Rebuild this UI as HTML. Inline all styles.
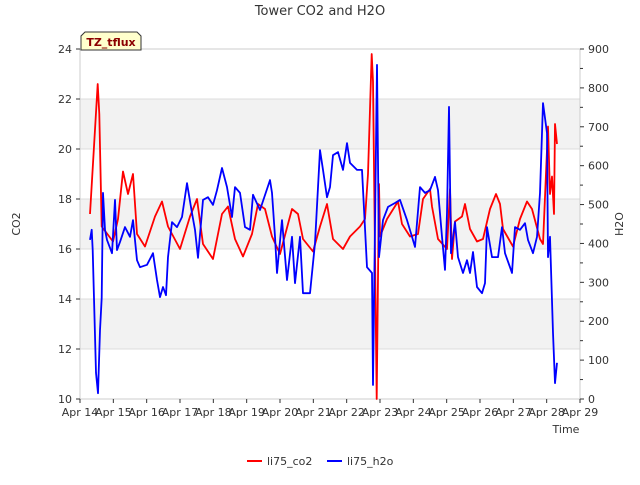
<!DOCTYPE html>
<html><head><meta charset="utf-8"><style>
body{margin:0;background:#fff;font-family:"Liberation Sans","DejaVu Sans",sans-serif;}
svg text{font-family:"DejaVu Sans","Liberation Sans",sans-serif;}
</style></head><body>
<svg id="chart" width="640" height="480">
</svg>
<script>
const xTickLabels=["Apr 14","Apr 15","Apr 16","Apr 17","Apr 18","Apr 19","Apr 20","Apr 21","Apr 22","Apr 23","Apr 24","Apr 25","Apr 26","Apr 27","Apr 28","Apr 29"];
const co2Ticks=[10,12,14,16,18,20,22,24];
const h2oTicks=[0,100,200,300,400,500,600,700,800,900];
const co2Points=[[0.30,17.4],[0.53,22.6],[0.58,21.4],[0.65,16.9],[0.99,16.3],[1.14,17.2],[1.29,19.1],[1.44,18.2],[1.59,19.0],[1.71,16.6],[1.95,16.1],[2.25,17.3],[2.46,17.9],[2.64,16.9],[3.0,16.0],[3.3,17.3],[3.51,18.0],[3.69,16.2],[3.99,15.6],[4.26,17.4],[4.44,17.7],[4.65,16.4],[4.89,15.7],[5.16,16.6],[5.34,17.8],[5.55,17.6],[5.76,16.5],[6.0,15.8],[6.36,17.6],[6.54,17.4],[6.69,16.4],[6.99,15.9],[7.2,16.9],[7.41,17.8],[7.59,16.4],[7.89,16.0],[8.1,16.5],[8.4,16.9],[8.55,17.2],[8.64,19.0],[8.75,23.8],[8.79,22.7],[8.9,10.0],[8.97,18.6],[9.0,16.5],[9.21,17.2],[9.54,17.9],[9.66,17.0],[9.9,16.5],[10.14,16.6],[10.29,18.0],[10.5,18.4],[10.56,17.7],[10.74,16.4],[11.01,16.0],[11.1,18.4],[11.16,15.6],[11.25,17.1],[11.46,17.3],[11.55,17.8],[11.7,16.8],[11.91,16.3],[12.09,16.4],[12.3,17.6],[12.48,18.2],[12.6,17.8],[12.69,16.8],[12.99,16.1],[13.2,17.2],[13.41,17.9],[13.56,17.6],[13.8,16.4],[13.89,16.2],[14.04,20.9],[14.1,18.2],[14.16,18.9],[14.22,17.4],[14.25,21.0],[14.31,20.2]];
const h2oPoints=[[0.30,409],[0.35,435],[0.38,383],[0.48,67],[0.54,15],[0.60,177],[0.65,260],[0.69,530],[0.75,435],[0.81,409],[0.96,375],[1.05,512],[1.11,383],[1.20,404],[1.35,442],[1.50,417],[1.59,460],[1.71,357],[1.80,339],[2.01,345],[2.19,375],[2.31,306],[2.40,262],[2.49,288],[2.58,267],[2.64,365],[2.76,455],[2.91,442],[3.06,468],[3.21,555],[3.36,478],[3.45,435],[3.54,363],[3.69,512],[3.84,519],[3.99,499],[4.11,537],[4.26,594],[4.41,545],[4.56,468],[4.65,545],[4.80,530],[4.95,442],[5.10,435],[5.19,525],[5.40,486],[5.70,563],[5.76,530],[5.85,417],[5.91,324],[6.06,460],[6.21,306],[6.36,417],[6.45,298],[6.60,417],[6.69,272],[6.90,272],[7.05,401],[7.20,640],[7.29,589],[7.41,519],[7.50,545],[7.59,627],[7.74,635],[7.89,589],[8.01,658],[8.10,607],[8.31,589],[8.46,589],[8.61,339],[8.76,324],[8.79,36],[8.91,859],[8.97,365],[9.09,460],[9.24,494],[9.45,504],[9.60,512],[9.81,460],[9.96,417],[10.05,391],[10.20,545],[10.35,530],[10.50,537],[10.65,571],[10.74,537],[10.86,417],[10.95,332],[11.01,478],[11.07,751],[11.13,375],[11.25,455],[11.34,365],[11.49,324],[11.61,357],[11.70,324],[11.79,378],[11.91,288],[12.06,272],[12.15,298],[12.21,442],[12.36,365],[12.54,365],[12.66,442],[12.75,375],[12.90,339],[12.96,324],[13.05,442],[13.20,435],[13.35,452],[13.44,409],[13.59,375],[13.71,417],[13.80,530],[13.89,761],[14.01,684],[14.04,365],[14.10,417],[14.19,170],[14.25,41],[14.31,93]];

const NS="http://www.w3.org/2000/svg";
const svg=document.getElementById('chart');
const L=80,R=580,T=49,B=399;
const xs=d=>L+(R-L)*d/15;
const yL=v=>B-(B-T)*(v-10)/14;
const yR=v=>B-(B-T)*v/900;
function mk(tag,attrs,parent){const e=document.createElementNS(NS,tag);for(const k in attrs)e.setAttribute(k,attrs[k]);(parent||svg).appendChild(e);return e;}

// bands
[[12,14],[16,18],[20,22]].forEach(b=>{
 const r=mk('rect',{x:L,y:yL(b[1]),width:R-L,height:yL(b[0])-yL(b[1]),fill:'#f2f2f2'});
 
 
});
co2Ticks.forEach(v=>{
 const g=mk('line',{x1:L,x2:R,y1:yL(v),y2:yL(v),stroke:'#dcdcdc','stroke-width':1});
 
 
});
const frame=mk('rect',{x:L,y:T,width:R-L,height:B-T,fill:'none',stroke:'#cccccc'});



// y left ticks
co2Ticks.forEach(v=>{
 mk('line',{x1:L-4,x2:L,y1:yL(v),y2:yL(v),stroke:'#333'});
 const t=mk('text',{x:L-8,y:yL(v)+4,'text-anchor':'end','font-size':11,fill:'#333'});
 t.textContent=v;
 
 
});
h2oTicks.forEach(v=>{
 mk('line',{x1:R,x2:R+4,y1:yR(v),y2:yR(v),stroke:'#333'});
 if(v<900) mk('line',{x1:R,x2:R+3,y1:yR(v+50),y2:yR(v+50),stroke:'#333'});
 const t=mk('text',{x:R+8,y:yR(v)+4,'text-anchor':'start','font-size':11,fill:'#333'});
 t.textContent=v;
 
 
});
xTickLabels.forEach((s,i)=>{
 mk('line',{x1:xs(i),x2:xs(i),y1:B,y2:B+4,stroke:'#333'});
 const t=mk('text',{x:xs(i),y:B+17,'text-anchor':'middle','font-size':11,fill:'#333'});
 t.textContent=s;
 
 
});

function series(pts,yf,color,name){
 const d=pts.map((p,i)=>(i?'L':'M')+xs(p[0]).toFixed(1)+' '+yf(p[1]).toFixed(1)).join(' ');
 const p=mk('path',{d:d,fill:'none',stroke:color,'stroke-width':1.8,'stroke-linejoin':'round'});
 
 
}
series(co2Points,yL,'#ff0000','co2-line');
series(h2oPoints,yR,'#0000ff','h2o-line');

function txt(x,y,s,attrs,name){const t=mk('text',Object.assign({x:x,y:y},attrs));t.textContent=s;
 
 
 return t;}
txt(320,15,'Tower CO2 and H2O',{'text-anchor':'middle','font-size':13,fill:'#333'},'chart-title');
txt(566,433,'Time',{'text-anchor':'middle','font-size':11,fill:'#333'},'x-axis-title');
txt(20,224,'CO2',{'text-anchor':'middle','font-size':11,fill:'#333',transform:'rotate(-90 20 224)'},'y-left-axis-title');
txt(623,224,'H2O',{'text-anchor':'middle','font-size':11,fill:'#333',transform:'rotate(-90 623 224)'},'y-right-axis-title');

const box=mk('path',{d:'M81 50 L81 36 L85 32 L137 32 L141 36 L141 50 Z',fill:'#ffffcc',stroke:'#333'});


txt(111,46,'TZ_tflux',{'text-anchor':'middle','font-size':11,'font-weight':'bold',fill:'#8b0000'},'site-label');

const lg1=mk('line',{x1:247,x2:262,y1:461,y2:461,stroke:'#ff0000','stroke-width':2});


txt(267,465,'li75_co2',{'font-size':11,fill:'#333'},'legend-co2-label');
const lg2=mk('line',{x1:327,x2:342,y1:461,y2:461,stroke:'#0000ff','stroke-width':2});


txt(347,465,'li75_h2o',{'font-size':11,fill:'#333'},'legend-h2o-label');
</script>
</body></html>
